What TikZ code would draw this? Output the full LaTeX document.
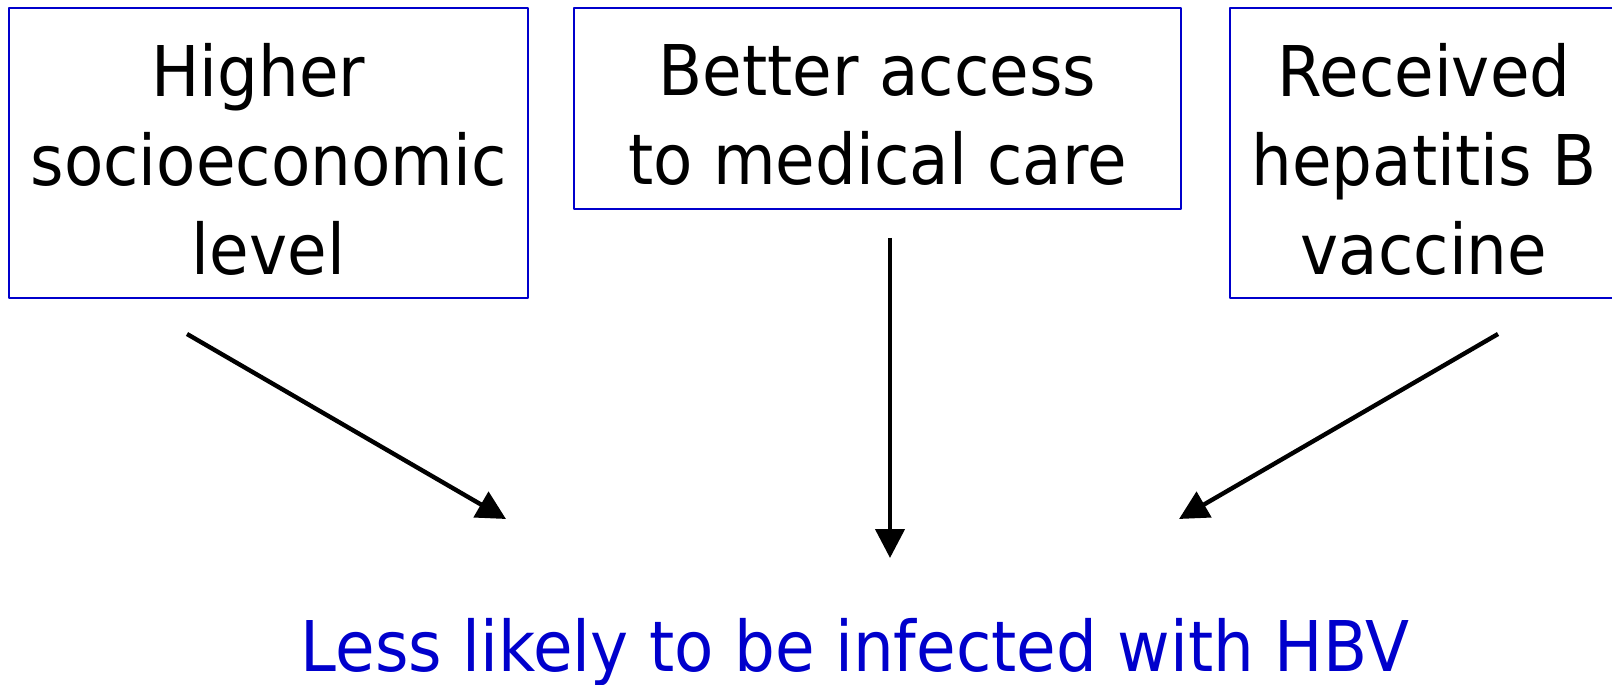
\documentclass[tikz,border=0pt]{standalone}
\usepackage{fontspec}
\setmainfont[FakeStretch=0.92]{DejaVu Sans}
\usetikzlibrary{arrows.meta}
\definecolor{hbvblue}{RGB}{0,0,204}
\begin{document}
\begin{tikzpicture}[line join=round, >={Triangle[length=2.9mm,width=2.9mm]},
  factor/.style={draw=hbvblue, line width=0.6pt, inner sep=0pt},
  factortext/.style={align=center, inner sep=0pt, yshift=-0.065cm,
    font=\fontsize{19.9}{25.4}\selectfont},
  outcome/.style={text=hbvblue, inner sep=0pt, font=\fontsize{19.9}{25.4}\selectfont},
  cause/.style={->, line width=1.25pt}]
\useasboundingbox (0,0) rectangle (16.12,-6.85);
% the three factors
\node[factor, minimum width=5.19cm, minimum height=2.90cm] (ses) at (2.685,-1.53) {};
\node[factortext] (ses-text) at (ses.center) {Higher\hphantom{\ }\\socioeconomic\\level};
\node[factor, minimum width=6.07cm, minimum height=2.01cm] (care) at (8.775,-1.085) {};
\node[factortext] (care-text) at (care.center) {Better access\\to medical care};
\node[factor, minimum width=3.88cm, minimum height=2.90cm] (vacc) at (14.24,-1.53) {};
\node[factortext] (vacc-text) at (vacc.center) {Received\\hepatitis B\\vaccine};
% outcome
\node[outcome, anchor=base] (hbv) at (8.55,-6.71) {Less likely to be infected with HBV};
% arrows
\coordinate (ses-out) at (1.87,-3.34);
\coordinate (ses-in) at (5.06,-5.19);
\coordinate (care-out) at (8.90,-2.38);
\coordinate (care-in) at (8.90,-5.58);
\coordinate (vacc-out) at (14.98,-3.34);
\coordinate (vacc-in) at (11.79,-5.19);
\draw[cause] (ses-out) -- (ses-in);
\draw[cause] (care-out) -- (care-in);
\draw[cause] (vacc-out) -- (vacc-in);
\end{tikzpicture}
\end{document}
